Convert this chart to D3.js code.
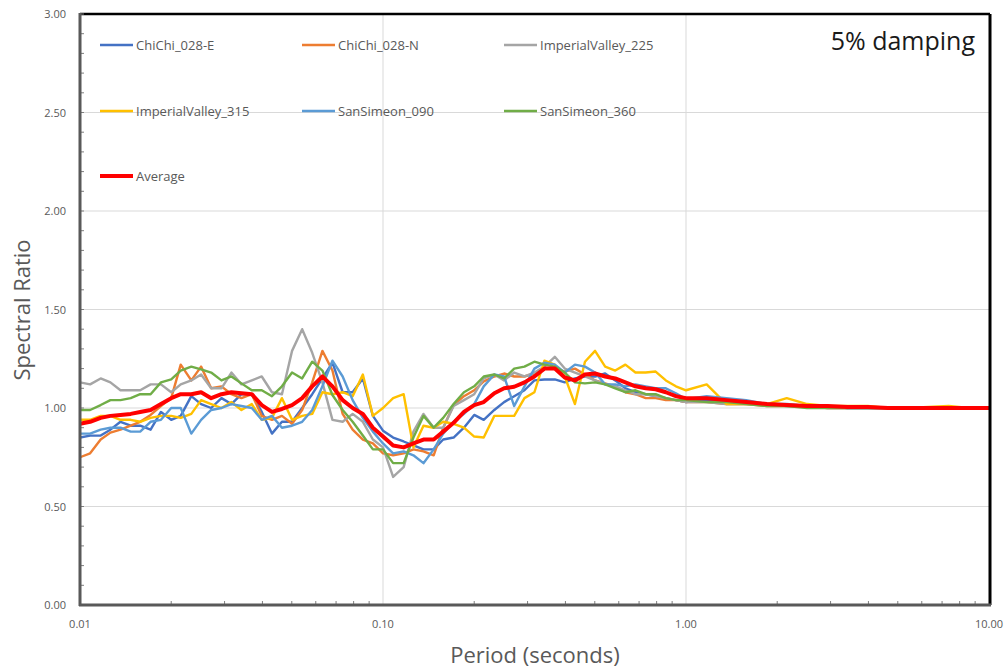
<!DOCTYPE html>
<html><head><meta charset="utf-8">
<script src="https://cdn.jsdelivr.net/npm/d3@7/dist/d3.min.js"></script>
<style>body{margin:0;background:#fff;} svg{display:block;}</style>
</head><body>
<svg id="c" width="1005" height="668"></svg>
<script>
const periods = [
 0.0100,0.0108,0.0117,0.0126,0.0136,0.0147,0.0158,0.0171,0.0185,0.0200,0.0215,0.0233,0.0251,0.0271,0.0293,0.0316,0.0341,0.0369,0.0398,0.0430,0.0464,0.0501,0.0541,0.0584,0.0631,0.0681,0.0736,0.0794,0.0858,0.0926,
 0.100,0.108,0.117,0.126,0.136,0.147,0.158,0.171,0.185,0.200,0.215,0.233,0.251,0.271,0.293,0.316,0.341,0.369,0.398,0.430,0.464,0.501,0.541,0.584,0.631,0.681,0.736,0.794,0.858,0.926,
 1.00,1.17,1.36,1.58,1.85,2.15,2.51,2.93,3.41,3.98,4.64,5.41,6.31,7.36,8.58,10.0];

const chichiE = [
 0.85,0.86,0.86,0.89,0.93,0.91,0.91,0.89,0.98,0.94,0.96,1.06,1.02,1.00,1.05,1.02,1.07,1.07,0.98,0.87,0.93,0.93,1.00,1.07,1.15,1.23,1.08,1.08,1.15,0.96,
 0.885,0.85,0.83,0.81,0.79,0.79,0.84,0.85,0.90,0.965,0.94,0.99,1.03,1.06,1.09,1.14,1.145,1.145,1.13,1.15,1.16,1.16,1.175,1.14,1.10,1.08,1.07,1.06,1.05,1.04,
 1.03,1.04,1.03,1.03,1.02,1.01,1.01,1.01,1.00,1.00,1.00,1.00,1.00,1.00,1.00,1.00];
const chichiN = [
 0.75,0.77,0.84,0.875,0.89,0.91,0.93,0.965,1.01,1.05,1.22,1.14,1.21,1.10,1.11,1.07,1.05,1.07,0.96,0.94,0.96,0.92,0.99,1.13,1.29,1.19,0.97,0.89,0.84,0.82,
 0.77,0.76,0.77,0.79,0.78,0.76,0.90,1.015,1.06,1.09,1.135,1.16,1.175,1.16,1.16,1.175,1.20,1.20,1.185,1.20,1.17,1.14,1.125,1.11,1.08,1.07,1.05,1.05,1.04,1.04,
 1.03,1.03,1.02,1.02,1.01,1.01,1.01,1.00,1.00,1.00,1.00,1.00,1.00,1.00,1.00,1.00];
const iv225 = [
 1.13,1.12,1.15,1.13,1.09,1.09,1.09,1.12,1.12,1.08,1.12,1.14,1.17,1.10,1.10,1.18,1.12,1.14,1.16,1.08,1.07,1.29,1.40,1.28,1.13,0.94,0.93,0.97,0.93,0.84,
 0.80,0.65,0.70,0.88,0.97,0.90,0.90,1.01,1.04,1.07,1.15,1.17,1.14,1.18,1.16,1.18,1.21,1.26,1.20,1.18,1.16,1.14,1.12,1.11,1.09,1.07,1.07,1.06,1.05,1.04,
 1.03,1.03,1.02,1.02,1.02,1.01,1.01,1.00,1.00,1.00,1.00,1.00,1.00,1.00,1.00,1.00];
const iv315 = [
 0.94,0.94,0.96,0.96,0.94,0.94,0.93,0.95,0.96,0.96,0.95,0.97,1.04,1.02,1.00,1.03,0.99,1.02,0.94,0.95,1.05,0.94,0.96,0.97,1.08,1.07,1.08,1.06,1.17,0.96,
 1.00,1.05,1.07,0.80,0.91,0.90,0.93,0.92,0.90,0.855,0.85,0.96,0.96,0.96,1.05,1.08,1.24,1.22,1.16,1.02,1.235,1.29,1.21,1.19,1.22,1.18,1.18,1.185,1.14,1.11,
 1.09,1.12,1.02,1.02,1.02,1.05,1.02,1.01,1.01,1.01,1.00,1.00,1.005,1.01,1.00,1.00];
const ss090 = [
 0.87,0.87,0.89,0.90,0.90,0.88,0.88,0.93,0.94,1.00,1.00,0.87,0.94,0.99,1.00,1.02,1.01,1.00,0.94,0.96,0.90,0.91,0.93,0.99,1.11,1.24,1.16,1.04,0.95,0.88,
 0.82,0.77,0.78,0.76,0.72,0.79,0.87,0.93,0.97,1.02,1.11,1.17,1.16,1.01,1.11,1.20,1.23,1.22,1.18,1.22,1.21,1.18,1.12,1.12,1.11,1.12,1.11,1.10,1.10,1.075,
 1.045,1.06,1.05,1.04,1.02,1.02,1.01,1.01,1.00,1.00,1.00,1.00,1.00,1.00,1.00,1.00];
const ss360 = [
 0.99,0.99,1.015,1.04,1.04,1.05,1.07,1.07,1.13,1.145,1.19,1.21,1.196,1.18,1.14,1.16,1.125,1.09,1.09,1.06,1.11,1.18,1.15,1.235,1.19,1.066,0.99,0.93,0.86,0.79,
 0.79,0.72,0.72,0.85,0.96,0.90,0.95,1.02,1.08,1.11,1.16,1.17,1.15,1.20,1.21,1.235,1.22,1.21,1.18,1.13,1.125,1.13,1.12,1.10,1.08,1.09,1.07,1.07,1.05,1.04,
 1.04,1.03,1.03,1.02,1.01,1.01,1.00,1.00,1.00,1.00,1.00,1.00,1.00,1.00,1.00,1.00];
const average = [
 0.92,0.93,0.95,0.96,0.965,0.97,0.98,0.99,1.02,1.05,1.07,1.07,1.08,1.05,1.07,1.08,1.075,1.07,1.015,0.98,0.995,1.015,1.05,1.11,1.16,1.11,1.04,1.00,0.97,0.90,
 0.855,0.81,0.80,0.82,0.84,0.84,0.88,0.925,0.98,1.015,1.03,1.075,1.10,1.108,1.13,1.16,1.20,1.20,1.155,1.14,1.17,1.175,1.16,1.15,1.13,1.11,1.10,1.095,1.08,1.06,
 1.05,1.05,1.04,1.03,1.02,1.015,1.01,1.01,1.005,1.005,1.00,1.00,1.00,1.00,1.00,1.00];

const seriesNames = ["ChiChi_028-E","ChiChi_028-N","ImperialValley_225","ImperialValley_315","SanSimeon_090","SanSimeon_360","Average"];
const seriesValues = [chichiE, chichiN, iv225, iv315, ss090, ss360, average];
const seriesColors = ["#4472C4","#ED7D31","#A5A5A5","#FFC000","#5B9BD5","#70AD47","#FF0000"];
const xTicks = [0.01, 0.1, 1, 10];
const yTicks = [0, 0.5, 1.0, 1.5, 2.0, 2.5, 3.0];

const svg = d3.select("#c");
const L = 80, R = 989, T = 14, B = 605;
const x = d3.scaleLog().domain([0.01, 10]).range([L, R]);
const y = d3.scaleLinear().domain([0, 3]).range([B, T]);
const font = "'Open Sans', 'Noto Sans', sans-serif";

// gridlines
svg.append("g").selectAll("line").data(yTicks.slice(1)).join("line")
  .attr("x1", L).attr("x2", R).attr("y1", d => y(d)).attr("y2", d => y(d))
  .attr("stroke", "#d9d9d9").attr("stroke-width", 1);
svg.append("g").selectAll("line").data(xTicks.slice(1, 3)).join("line")
  .attr("y1", T).attr("y2", B).attr("x1", d => x(d)).attr("x2", d => x(d))
  .attr("stroke", "#d9d9d9").attr("stroke-width", 1);

// series
const line = d3.line().x((d, i) => x(periods[i])).y(d => y(d));
seriesValues.forEach((vals, si) => {
  svg.append("path").datum(vals)
    .attr("d", line)
    .attr("fill", "none")
    .attr("stroke", seriesColors[si])
    .attr("stroke-width", si === 6 ? 4 : 2.4)
    .attr("stroke-linejoin", "round");
});

// frame: top and right black
svg.append("line").attr("x1", L).attr("x2", R + 1).attr("y1", T).attr("y2", T).attr("stroke", "#000").attr("stroke-width", 2.5);
svg.append("line").attr("x1", R + 1).attr("x2", R + 1).attr("y1", T).attr("y2", B).attr("stroke", "#000").attr("stroke-width", 3);

// axes
const yMinor = d3.range(0, 31).map(d => d / 10);
svg.append("g").selectAll("line").data(yMinor).join("line")
  .attr("x1", L).attr("x2", L + 4).attr("y1", d => y(d)).attr("y2", d => y(d))
  .attr("stroke", "#7f7f7f").attr("stroke-width", 1);
const xMinor = [];
[0.01, 0.1, 1].forEach(dec => { for (let m = 2; m <= 9; m++) xMinor.push(dec * m); });
svg.append("g").selectAll("line").data(xMinor).join("line")
  .attr("x1", d => x(d)).attr("x2", d => x(d)).attr("y1", B).attr("y2", B - 4)
  .attr("stroke", "#7f7f7f").attr("stroke-width", 1);
svg.append("line").attr("x1", L).attr("x2", L).attr("y1", T - 1).attr("y2", B + 1).attr("stroke", "#595959").attr("stroke-width", 3);
svg.append("line").attr("x1", L - 1).attr("x2", R + 2).attr("y1", B).attr("y2", B).attr("stroke", "#595959").attr("stroke-width", 3);

// tick labels
svg.append("g").selectAll("text").data(yTicks).join("text")
  .attr("x", 66).attr("y", d => y(d) + 4).attr("text-anchor", "end")
  .attr("font-family", font).attr("font-size", 11).attr("fill", "#595959")
  .text(d => d3.format(".2f")(d));
svg.append("g").selectAll("text").data(xTicks).join("text")
  .attr("x", d => x(d)).attr("y", 628).attr("text-anchor", "middle")
  .attr("font-family", font).attr("font-size", 11).attr("fill", "#595959")
  .text(d => d3.format(".2f")(d));

// axis titles
svg.append("text").attr("x", 535).attr("y", 663).attr("text-anchor", "middle")
  .attr("font-family", font).attr("font-size", 22).attr("fill", "#595959").text("Period (seconds)");
svg.append("text").attr("transform", "translate(30,310) rotate(-90)").attr("text-anchor", "middle")
  .attr("font-family", font).attr("font-size", 22).attr("fill", "#595959").text("Spectral Ratio");

// annotation
svg.append("text").attr("x", 975).attr("y", 50).attr("text-anchor", "end")
  .attr("font-family", font).attr("font-size", 25).attr("fill", "#1a1a1a").text("5% damping");

// legend
const legX = [100, 302, 504], legY = [45, 111, 176];
seriesNames.forEach((n, i) => {
  const lx = legX[i % 3], ly = legY[Math.floor(i / 3)];
  svg.append("line").attr("x1", lx).attr("x2", lx + 33).attr("y1", ly).attr("y2", ly)
    .attr("stroke", seriesColors[i]).attr("stroke-width", i === 6 ? 4 : 2.5);
  svg.append("text").attr("x", lx + 36).attr("y", ly + 4.5)
    .attr("font-family", font).attr("font-size", 13).attr("fill", "#595959").text(n);
});
</script>
</body></html>
